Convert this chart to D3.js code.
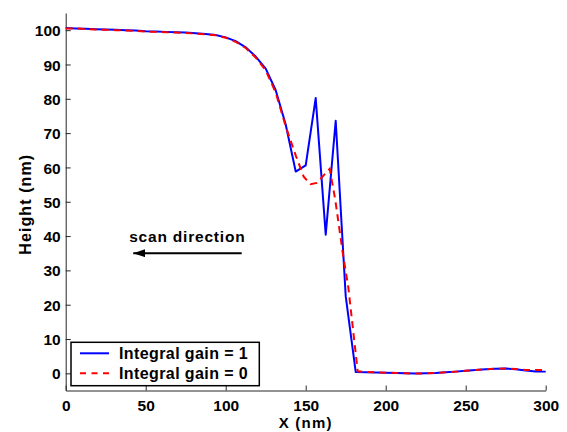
<!DOCTYPE html>
<html>
<head>
<meta charset="utf-8">
<script src="https://cdn.jsdelivr.net/npm/d3@7"></script>
<style>
  html, body { margin: 0; padding: 0; background: #fff; }
  svg { display: block; font-family: "Liberation Sans", Arial, sans-serif; font-weight: bold; }
</style>
</head>
<body>
<svg id="chart" width="567" height="432"></svg>
<script>
// Height profile sampled every 6.25 nm along the scan
const xGrid = [
  0, 6.25, 12.5, 18.75, 25, 31.25, 37.5, 43.75, 50, 56.25, 62.5, 68.75, 75,
  81.25, 87.5, 93.75, 100, 106.25, 112.5, 118.75, 125, 131.25, 137.5, 143.75,
  150, 156.25, 162.5, 168.75, 175, 181.25, 187.5, 193.75, 200, 206.25, 212.5,
  218.75, 225, 231.25, 237.5, 243.75, 250, 256.25, 262.5, 268.75, 275, 281.25,
  287.5, 293.75, 300
];
const heightGain1 = [
  100.6, 100.5, 100.4, 100.3, 100.2, 100.1, 100.0, 99.9, 99.7, 99.6, 99.5, 99.4,
  99.3, 99.1, 98.9, 98.6, 97.9, 96.8, 95.0, 92.3, 88.8, 82.5, 72.5, 58.8, 60.6,
  80.2, 40.4, 73.6, 22.5, 0.4, 0.3, 0.25, 0.2, 0.1, 0.0, -0.05, 0.0, 0.1, 0.3,
  0.5, 0.75, 1.0, 1.2, 1.35, 1.4, 1.2, 0.8, 0.55, 0.5
];

const xGain0 = [
  0, 6.25, 12.5, 18.75, 25, 31.25, 37.5, 43.75, 50, 56.25, 62.5, 68.75, 75,
  81.25, 87.5, 93.75, 100, 106.25, 112.5, 118.75, 125, 131.25, 137.5, 143.75,
  148.75, 153, 157, 165, 168.5, 173.5, 176.6, 182.5, 187.5, 193.75, 200, 206.25,
  212.5, 218.75, 225, 231.25, 237.5, 243.75, 250, 256.25, 262.5, 268.75, 275,
  281.25, 287.5, 293.75, 300
];
const heightGain0 = [
  100.5, 100.5, 100.3, 100.2, 100.1, 100.0, 99.9, 99.8, 99.6, 99.5, 99.4, 99.3,
  99.2, 99.0, 98.8, 98.5, 97.8, 96.6, 94.8, 92.0, 88.3, 81.8, 72.0, 63.5, 57.3,
  55.1, 55.5, 59.6, 50.5, 34.0, 25.2, 0.6, 0.4, 0.3, 0.2, 0.1, 0.0, -0.05, 0.0,
  0.1, 0.3, 0.5, 0.75, 1.0, 1.2, 1.35, 1.4, 1.25, 1.0, 1.0, 1.0
];

const xTicks = [0, 50, 100, 150, 200, 250, 300];
const yTicks = [0, 10, 20, 30, 40, 50, 60, 70, 80, 90, 100];
const legendLabels = ["Integral gain = 1", "Integral gain = 0"];

const plotLeft = 65.7, plotRight = 545.7, plotTop = 13, plotBottom = 390.5;

const xScale = d3.scaleLinear().domain([0, 300]).range([plotLeft, plotRight]);
const yScale = d3.scaleLinear().domain([-5, 105]).range([plotBottom, plotTop]);

const chart = d3.select("#chart");

const xAxis = chart.append("g")
  .attr("transform", `translate(0, ${plotBottom})`)
  .call(d3.axisBottom(xScale).tickValues(xTicks).tickSizeInner(-5).tickSizeOuter(0).tickPadding(0));
xAxis.selectAll("text").attr("y", 20.8).attr("dy", 0);

const yAxis = chart.append("g")
  .attr("transform", `translate(${plotLeft}, 0)`)
  .call(d3.axisLeft(yScale).tickValues(yTicks).tickSizeInner(-5).tickSizeOuter(0).tickPadding(0));
yAxis.selectAll("text").attr("x", -5).attr("dy", "0.36em");

chart.selectAll(".tick text")
  .attr("fill", "#000")
  .style("font-size", "15.5px")
  .style("font-family", "Liberation Sans, Arial")
  .style("font-weight", "bold");
chart.selectAll(".domain, .tick line").attr("stroke", "#262626");

const line = d3.line().x((d) => xScale(d[0])).y((d) => yScale(d[1]));

chart.append("path")
  .datum(xGrid.map((x, i) => [x, heightGain1[i]]))
  .attr("d", line)
  .attr("fill", "none")
  .attr("stroke", "#0000ff")
  .attr("stroke-width", 2)
  .attr("stroke-linejoin", "round");

chart.append("path")
  .datum(xGain0.map((x, i) => [x, heightGain0[i]]))
  .attr("d", line)
  .attr("fill", "none")
  .attr("stroke", "#ff0000")
  .attr("stroke-width", 2)
  .attr("stroke-dasharray", "7,5");

// axis titles
chart.append("text")
  .attr("x", (plotLeft + plotRight) / 2)
  .attr("y", 428)
  .attr("text-anchor", "middle")
  .style("font-size", "15px")
  .style("letter-spacing", "1.2px")
  .text("X (nm)");

chart.append("text")
  .attr("transform", `translate(30.7, ${(plotTop + plotBottom) / 2 + 2.5}) rotate(-90)`)
  .attr("text-anchor", "middle")
  .style("font-size", "16px")
  .style("letter-spacing", "1.1px")
  .text("Height (nm)");

// scan direction note
const defs = chart.append("defs");
defs.append("marker")
  .attr("id", "arrowHead")
  .attr("viewBox", "0 0 12 8")
  .attr("refX", 12)
  .attr("refY", 4)
  .attr("markerWidth", 12)
  .attr("markerHeight", 8)
  .attr("markerUnits", "userSpaceOnUse")
  .attr("orient", "auto")
  .append("path")
  .attr("d", "M0,0 L12,4 L0,8 Z")
  .attr("fill", "#000");

chart.append("text")
  .attr("x", xScale(76))
  .attr("y", yScale(38.4))
  .attr("text-anchor", "middle")
  .style("font-size", "15.5px")
  .style("letter-spacing", "0.8px")
  .text("scan direction");

chart.append("line")
  .attr("x1", xScale(110))
  .attr("x2", xScale(42.2))
  .attr("y1", yScale(35.0))
  .attr("y2", yScale(35.0))
  .attr("stroke", "#000")
  .attr("stroke-width", 2.2)
  .attr("marker-end", "url(#arrowHead)");

// legend
const legend = chart.append("g").attr("transform", "translate(71, 342.3)");
legend.append("rect")
  .attr("width", 188.3)
  .attr("height", 43.4)
  .attr("fill", "#fff")
  .attr("stroke", "#000")
  .attr("stroke-width", 1.5);

const legendStyles = [
  { stroke: "#0000ff", dash: null },
  { stroke: "#ff0000", dash: "6,5.5" }
];

legendLabels.forEach((label, i) => {
  const y = 11 + i * 20;
  legend.append("line")
    .attr("x1", 9)
    .attr("x2", 38)
    .attr("y1", y)
    .attr("y2", y)
    .attr("stroke", legendStyles[i].stroke)
    .attr("stroke-width", 2)
    .attr("stroke-dasharray", legendStyles[i].dash);
  legend.append("text")
    .attr("x", 48)
    .attr("y", y)
    .attr("dy", "0.36em")
    .style("font-size", "16px")
    .style("letter-spacing", "0.4px")
    .text(label);
});
</script>
</body>
</html>
